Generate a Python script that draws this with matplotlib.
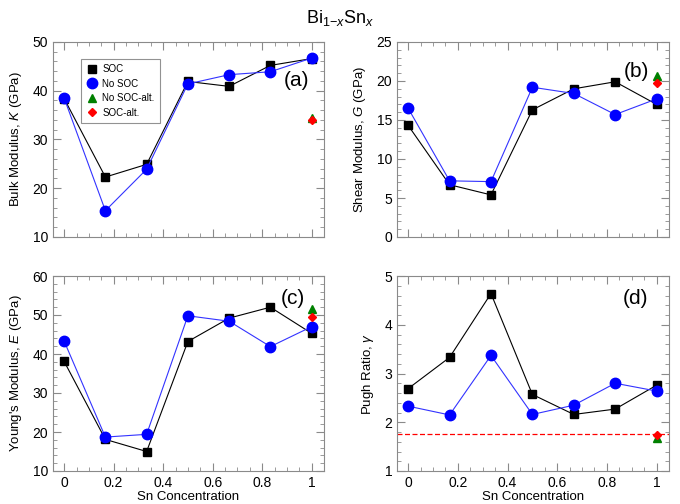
import matplotlib
matplotlib.use("Agg")
import matplotlib.pyplot as plt
from matplotlib.ticker import MultipleLocator

plt.rcParams['font.family'] = ['Liberation Sans', 'DejaVu Sans']
plt.rcParams['mathtext.fontset'] = 'custom'
plt.rcParams['mathtext.rm'] = 'Liberation Sans'
plt.rcParams['mathtext.it'] = 'Liberation Sans:italic'
plt.rcParams['mathtext.bf'] = 'Liberation Sans:bold'

x = [0, 1/6, 1/3, 1/2, 2/3, 5/6, 1]
x_alt = [1]

K_soc = [38.4, 22.3, 24.9, 41.9, 40.9, 45.2, 46.6]
K_nosoc = [38.5, 15.4, 23.9, 41.4, 43.3, 43.9, 46.7]
K_nosoc_alt = [34.5]
K_soc_alt = [34.0]

G_soc = [14.3, 6.7, 5.4, 16.3, 19.0, 19.9, 17.0]
G_nosoc = [16.5, 7.2, 7.1, 19.2, 18.4, 15.7, 17.7]
G_nosoc_alt = [20.7]
G_soc_alt = [19.7]

E_soc = [38.1, 18.1, 15.0, 43.2, 49.2, 52.0, 45.3]
E_nosoc = [43.3, 18.7, 19.4, 49.8, 48.4, 41.9, 47.0]
E_nosoc_alt = [51.6]
E_soc_alt = [49.6]

P_soc = [2.69, 3.33, 4.64, 2.57, 2.16, 2.27, 2.76]
P_nosoc = [2.33, 2.15, 3.37, 2.16, 2.35, 2.80, 2.64]
P_nosoc_alt = [1.67]
P_soc_alt = [1.73]
pugh_critical = 1.75

W, H = 680, 504
fig = plt.figure(figsize=(W/100, H/100), dpi=100)

def rect(l, t, r, b):
    return [l/W, 1 - b/H, (r-l)/W, (b-t)/H]

axes_rects = {
    'a': rect(53, 42, 324, 237),
    'b': rect(397, 42, 669, 237),
    'c': rect(53, 276, 324, 471),
    'd': rect(397, 276, 669, 471),
}

panels = [
    ('a', K_soc, K_nosoc, K_nosoc_alt, K_soc_alt, (10, 50), 10, 2,
     'Bulk Modulus, $K$ (GPa)', (0.90, 0.805)),
    ('b', G_soc, G_nosoc, G_nosoc_alt, G_soc_alt, (0, 25), 5, 1,
     'Shear Modulus, $G$ (GPa)', (0.88, 0.85)),
    ('c', E_soc, E_nosoc, E_nosoc_alt, E_soc_alt, (10, 60), 10, 2,
     "Young's Modulus, $E$ (GPa)", (0.885, 0.885)),
    ('d', P_soc, P_nosoc, P_nosoc_alt, P_soc_alt, (1, 5), 1, 0.2,
     'Pugh Ratio, $\\gamma$', (0.877, 0.885)),
]

spine_col = '#8a8a8a'
for key, soc, nosoc, nalt, salt, ylim, maj, mnr, ylabel, lpos in panels:
    ax = fig.add_axes(axes_rects[key])
    if key == 'd':
        ax.axhline(pugh_critical, color='red', ls='--', lw=0.9, dashes=(4, 2), zorder=1)
    ax.plot(x, soc, color='black', lw=0.8, marker='s', ms=6.3, mfc='black',
            mec='black', label='SOC', zorder=3)
    ax.plot(x, nosoc, color='#3333ff', lw=0.8, marker='o', ms=7.5, mfc='blue',
            mec='blue', label='No SOC', zorder=4)
    ax.plot(x_alt, nalt, ls='none', marker='^', ms=6, color='green',
            label='No SOC-alt.', zorder=5)
    ax.plot(x_alt, salt, ls='none', marker='D', ms=4.5, color='red',
            label='SOC-alt.', zorder=6)
    ax.set_xlim(-0.045, 1.05)
    ax.set_ylim(*ylim)
    ax.xaxis.set_major_locator(MultipleLocator(0.2))
    ax.xaxis.set_minor_locator(MultipleLocator(0.05))
    ax.yaxis.set_major_locator(MultipleLocator(maj))
    ax.yaxis.set_minor_locator(MultipleLocator(mnr))
    ax.tick_params(which='both', direction='in', top=True, right=True,
                   color=spine_col, labelsize=10, pad=3.5)
    ax.tick_params(which='major', length=6, width=0.8)
    ax.tick_params(which='minor', length=3, width=0.6)
    for s in ax.spines.values():
        s.set_color(spine_col)
        s.set_linewidth(0.8)
    ax.set_xticks([0, 0.2, 0.4, 0.6, 0.8, 1.0])
    if key in ('a', 'b'):
        ax.set_xticklabels([])
    else:
        ax.set_xticklabels(['0', '0.2', '0.4', '0.6', '0.8', '1'])
        ax.set_xlabel('Sn Concentration', fontsize=9.5, labelpad=0.5)
    ax.set_ylabel(ylabel, fontsize=9.5, labelpad=6)
    ax.text(lpos[0], lpos[1], '(%s)' % key, transform=ax.transAxes,
            fontsize=15, ha='center', va='center')
    if key == 'a':
        leg = ax.legend(loc='upper left', bbox_to_anchor=(0.085, 0.94),
                        fontsize=7, frameon=True, fancybox=False,
                        handlelength=1.0, handletextpad=0.6, borderpad=0.6,
                        labelspacing=0.45, numpoints=1)
        leg.get_frame().set_edgecolor('#777777')
        leg.get_frame().set_linewidth(0.8)
        for h in leg.legend_handles:
            h.set_linestyle('none')

fig.text(0.5, 0.965, 'Bi$_{1\\mathrm{-}x}$Sn$_x$', ha='center', va='center', fontsize=13)

fig.savefig('out.png', dpi=100)
